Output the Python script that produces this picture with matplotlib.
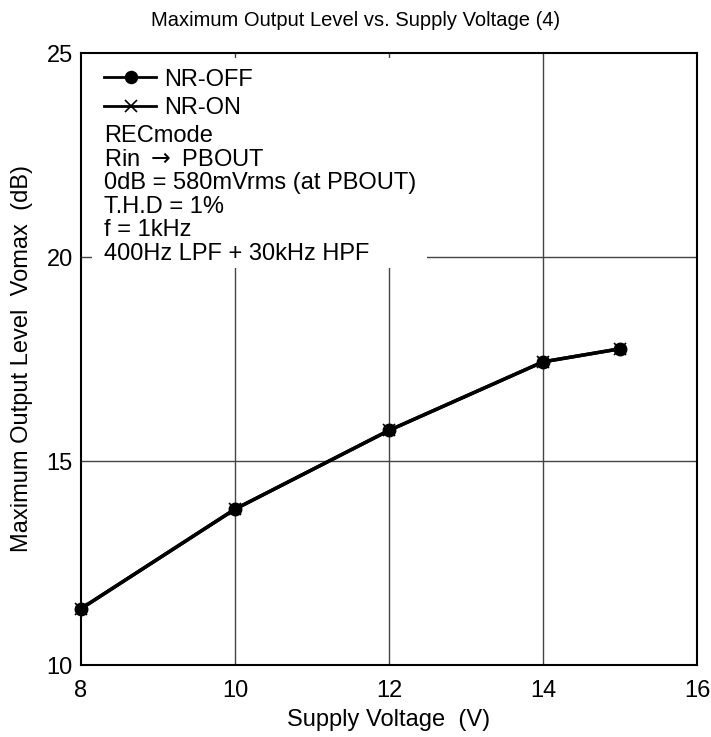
import matplotlib
matplotlib.use("Agg")
import matplotlib.pyplot as plt
from matplotlib.lines import Line2D
from matplotlib.patches import Rectangle

plt.rcParams['font.family'] = ['Liberation Sans', 'DejaVu Sans']
plt.rcParams['mathtext.fontset'] = 'dejavusans'

supply_v = [8, 10, 12, 14, 15]
nr_off = [11.38, 13.82, 15.75, 17.43, 17.75]
nr_on = [11.38, 13.82, 15.75, 17.43, 17.75]
x_ticks = [8, 10, 12, 14, 16]
y_ticks = [10, 15, 20, 25]
notes = ["RECmode", "Rin $\\rightarrow$ PBOUT", "0dB = 580mVrms (at PBOUT)",
         "T.H.D = 1%", "f = 1kHz", "400Hz LPF + 30kHz HPF"]

fig = plt.figure(figsize=(7.11, 7.37), dpi=100)
ax = fig.add_axes([81/711, 1-665/737, 616/711, 612/737])
ax.set_xlim(8, 16)
ax.set_ylim(10, 25)
ax.set_xticks(x_ticks)
ax.set_yticks(y_ticks)
ax.tick_params(length=0, labelsize=17)
ax.tick_params(axis='x', pad=11)
ax.tick_params(axis='y', pad=6)
for s in ax.spines.values():
    s.set_linewidth(1.5)

for xv in [10, 12, 14]:
    ax.axvline(xv, color='#444444', lw=1, zorder=1)
for yv in [15, 20]:
    ax.axhline(yv, color='#444444', lw=1, zorder=1)

# white annotation box covering the grid
W, H = 616.0, 612.0
def fx(px): return (px - 81) / W
def fy(py): return (665 - py) / H
ax.add_patch(Rectangle((fx(92), fy(268)), fx(427) - fx(92), fy(58) - fy(268),
                       transform=ax.transAxes, facecolor='white', edgecolor='none', zorder=2))

ax.plot(supply_v, nr_on, color='black', lw=2.5, marker='x', ms=9, mew=1.2, zorder=3, clip_on=False)
ax.plot(supply_v, nr_off, color='black', lw=2.5, marker='o', ms=9, zorder=4, clip_on=False)

# legend entries
for i, (lab, mk, ms) in enumerate([("NR-OFF", 'o', 8.5), ("NR-ON", 'x', 9)]):
    yy = fy(77 + 28.5 * i)
    ax.add_line(Line2D([fx(104), fx(156)], [yy, yy], transform=ax.transAxes,
                       color='black', lw=2, zorder=5))
    ax.add_line(Line2D([fx(131)], [yy], transform=ax.transAxes, color='black',
                       marker=mk, ms=ms, mew=1.2, zorder=5))
    ax.text(fx(164), yy, lab, transform=ax.transAxes, fontsize=17,
            va='center_baseline', ha='left', zorder=6)
for i, t in enumerate(notes):
    ax.text(fx(104), fy(134 + 23.5 * i), t, transform=ax.transAxes, fontsize=17,
            va='center_baseline', ha='left', zorder=6)

ax.set_xlabel("Supply Voltage  (V)", fontsize=17, labelpad=5)
ax.set_ylabel("Maximum Output Level  Vomax  (dB)", fontsize=17, labelpad=10)
fig.text(0.5, 1 - 20/737, "Maximum Output Level vs. Supply Voltage (4)",
         ha='center', va='center', fontsize=14.5)

fig.savefig("out.png", dpi=100)
